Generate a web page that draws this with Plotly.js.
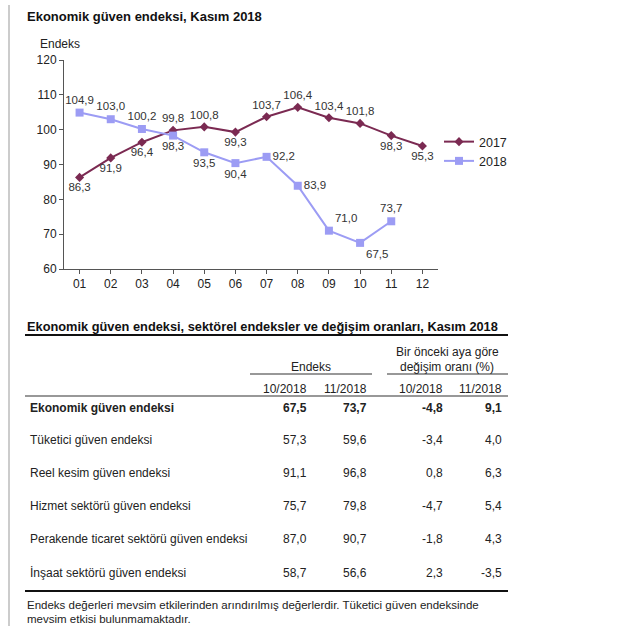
<!DOCTYPE html>
<html>
<head>
<meta charset="utf-8">
<script src="https://cdn.plot.ly/plotly-3.0.1.min.js"></script>
<style>html,body{margin:0;padding:0;background:#fff;}#chart{width:640px;height:637px;}</style>
</head>
<body>
<div id="chart"></div>
<script>
// ---- Chart data ----
const months = ['01','02','03','04','05','06','07','08','09','10','11','12'];
const y2017 = [86.3, 91.9, 96.4, 99.8, 100.8, 99.3, 103.7, 106.4, 103.4, 101.8, 98.3, 95.3];
const y2018 = [104.9, 103.0, 100.2, 98.3, 93.5, 90.4, 92.2, 83.9, 71.0, 67.5, 73.7];
const pos2017 = ['bottom center','bottom center','bottom center','top center','top center','bottom center','top center','top center','top center','top center','bottom center','bottom center'];
const pos2018 = ['top center','top center','top center','bottom center','bottom center','bottom center','middle right','middle right','top right','bottom right','top center'];

// ---- Table data ----
const rowLabels = ['Ekonomik güven endeksi','Tüketici güven endeksi','Reel kesim güven endeksi','Hizmet sektörü güven endeksi','Perakende ticaret sektörü güven endeksi','İnşaat sektörü güven endeksi'];
const idx102018 = [67.5, 57.3, 91.1, 75.7, 87.0, 58.7];
const idx112018 = [73.7, 59.6, 96.8, 79.8, 90.7, 56.6];
const chg102018 = [-4.8, -3.4, 0.8, -4.7, -1.8, 2.3];
const chg112018 = [9.1, 4.0, 6.3, 5.4, 4.3, -3.5];
const colHeaders = ['10/2018','11/2018','10/2018','11/2018'];

const fmt = v => v.toFixed(1).replace('.', ',');
const FONT = "Arial, 'Liberation Sans', sans-serif";

const W = 640, H = 637, L = 64, R = 202, T = 60, B = 368;
const PW = W - L - R, PH = H - T - B;
const px = x => (x - L) / PW;
const py = y => (T + PH - y) / PH;

const traces = [
  {x: months, y: y2017, name: '2017', type: 'scatter', mode: 'lines+markers+text',
   line: {color: '#7b2a52', width: 2}, marker: {symbol: 'diamond', size: 7, color: '#7b2a52'},
   text: y2017.map(fmt), textposition: pos2017, textfont: {family: FONT, size: 11.5, color: '#333'},
   cliponaxis: false},
  {x: months.slice(0, y2018.length), y: y2018, name: '2018', type: 'scatter', mode: 'lines+markers+text',
   line: {color: '#9c9cf4', width: 2}, marker: {symbol: 'square', size: 8, color: '#9c9cf4'},
   text: y2018.map(fmt), textposition: pos2018, textfont: {family: FONT, size: 11.5, color: '#333'},
   cliponaxis: false}
];

const ann = [];
const shapes = [];
function txt(x, y, s, opts) {
  ann.push(Object.assign({xref: 'paper', yref: 'paper', x: px(x), y: py(y), text: s, showarrow: false,
    xanchor: 'left', yanchor: 'middle', font: {family: FONT, size: 12, color: '#222'}}, opts || {}));
}
function hline(x0, x1, y, w, c) {
  shapes.push({type: 'line', xref: 'paper', yref: 'paper', x0: px(x0), x1: px(x1), y0: py(y), y1: py(y),
    line: {color: c || '#222', width: w}});
}

// Chart title and axis title
txt(25, 16, '<b>Ekonomik güven endeksi, Kasım 2018</b>', {font: {family: FONT, size: 13, color: '#111'}});
txt(38, 44, 'Endeks', {font: {family: FONT, size: 12, color: '#222'}});

// Left border line
shapes.push({type: 'line', xref: 'paper', yref: 'paper', x0: px(9), x1: px(9), y0: py(5), y1: py(626),
  line: {color: '#999', width: 1}});

// Table
txt(25, 326, '<b>Ekonomik güven endeksi, sektörel endeksler ve değişim oranları, Kasım 2018</b>', {font: {family: FONT, size: 12.8, color: '#111'}});
hline(25, 508, 335, 2, '#111');
txt(311, 367, 'Endeks', {xanchor: 'center'});
txt(447, 352, 'Bir önceki aya göre', {xanchor: 'center'});
txt(447, 367, 'değişim oranı (%)', {xanchor: 'center'});
hline(250, 372, 374, 1.2, '#333');
hline(387, 508, 374, 1.2, '#333');
const colRight = [309, 369, 445, 504];
colHeaders.forEach((h, i) => txt(colRight[i], 389, h, {xanchor: 'right'}));
hline(25, 508, 396, 1.2, '#333');
const rowY = [408, 440, 473, 506, 539, 573];
rowLabels.forEach((lab, i) => {
  const b = i === 0;
  const w = s => b ? '<b>' + s + '</b>' : s;
  txt(28, rowY[i], w(lab));
  txt(colRight[0], rowY[i], w(fmt(idx102018[i])), {xanchor: 'right'});
  txt(colRight[1], rowY[i], w(fmt(idx112018[i])), {xanchor: 'right'});
  txt(colRight[2], rowY[i], w(fmt(chg102018[i])), {xanchor: 'right'});
  txt(colRight[3], rowY[i], w(fmt(chg112018[i])), {xanchor: 'right'});
});
hline(25, 508, 591, 2, '#111');
txt(25, 605, 'Endeks değerleri mevsim etkilerinden arındırılmış değerlerdir. Tüketici güven endeksinde', {font: {family: FONT, size: 11.5, color: '#222'}});
txt(25, 619, 'mevsim etkisi bulunmamaktadır.', {font: {family: FONT, size: 11.5, color: '#222'}});

const layout = {
  width: W, height: H,
  margin: {l: L, r: R, t: T, b: B, pad: 0},
  paper_bgcolor: '#fff', plot_bgcolor: '#fff',
  font: {family: FONT, size: 12, color: '#222'},
  showlegend: true,
  legend: {x: px(439), y: py(127), xanchor: 'left', yanchor: 'top', bgcolor: 'rgba(0,0,0,0)',
    font: {family: FONT, size: 12.5, color: '#222'}, tracegroupgap: 0, itemwidth: 30},
  xaxis: {type: 'category', range: [-0.5, 11.5], showline: true, linecolor: '#555', linewidth: 1,
    ticks: 'outside', ticklen: 4, tickcolor: '#555', showgrid: false, zeroline: false,
    tickfont: {family: FONT, size: 12, color: '#222'}, fixedrange: true},
  yaxis: {range: [60, 120], dtick: 10, showline: true, linecolor: '#555', linewidth: 1,
    ticks: 'outside', ticklen: 4, tickcolor: '#555', showgrid: false, zeroline: false,
    tickfont: {family: FONT, size: 12, color: '#222'}, fixedrange: true},
  annotations: ann,
  shapes: shapes
};

Plotly.newPlot('chart', traces, layout, {displayModeBar: false, staticPlot: true});
</script>
</body>
</html>
